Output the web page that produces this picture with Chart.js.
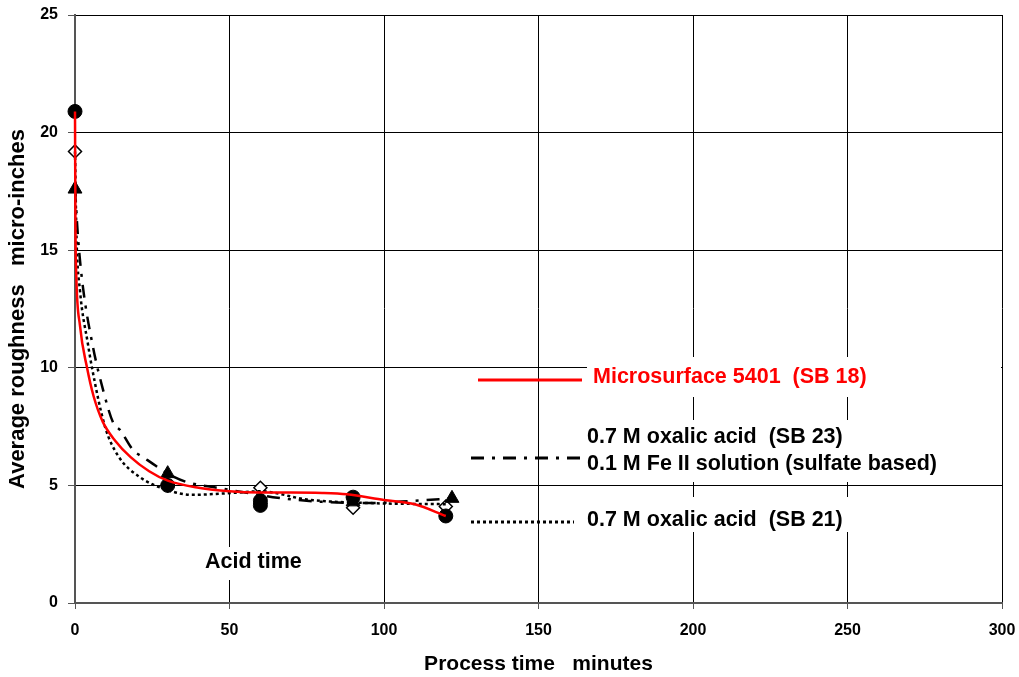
<!DOCTYPE html>
<html>
<head>
<meta charset="utf-8">
<script src="https://cdn.jsdelivr.net/npm/chart.js@4/dist/chart.umd.min.js"></script>
<style>
  html, body { margin: 0; padding: 0; background: #fff; }
  #wrap { width: 1019px; height: 677px; }
</style>
</head>
<body>
<div id="wrap"><canvas id="grafico" width="1019" height="677"></canvas></div>
<script>
// measured points
var sb18X = [0, 30, 60, 60, 90, 120];
var sb18Y = [20.9, 5.0, 4.35, 4.15, 4.5, 3.7];
var sb23X = [0, 30, 60, 90, 122];
var sb23Y = [17.6, 5.5, 4.4, 4.3, 4.45];
var sb21X = [0, 30, 60, 90, 120];
var sb21Y = [19.2, 5.0, 4.9, 4.05, 4.1];

// trend curves
var fit18X = [0, 0.15, 0.4, 1.6, 3.9, 6, 9, 13, 18, 24, 30, 40, 50, 60, 70, 80, 88, 100, 110, 120];
var fit18Y = [20.9, 16, 14, 11.8, 10, 8.8, 7.7, 6.9, 6.2, 5.6, 5.2, 4.9, 4.75, 4.7, 4.7, 4.68, 4.62, 4.38, 4.2, 3.7];
var fit23X = [0, 1, 2.6, 5.8, 9.1, 12.4, 14.6, 18.8, 22, 24.3, 30, 36, 46, 55, 64, 80, 95, 110, 122];
var fit23Y = [17.6, 15.5, 13.4, 10.9, 9.05, 7.65, 7.35, 6.5, 6.2, 6.0, 5.5, 5.15, 4.9, 4.7, 4.5, 4.3, 4.25, 4.35, 4.45];
var fit21X = [0, 0.5, 1.6, 4.2, 5.5, 9.7, 14, 21, 30, 38, 51, 60, 75, 95, 120];
var fit21Y = [19.2, 15.5, 13.3, 11, 10, 7.5, 6.25, 5.35, 4.8, 4.6, 4.68, 4.75, 4.4, 4.25, 4.2];

var xTicks = [0, 50, 100, 150, 200, 250, 300];
var yTicks = [0, 5, 10, 15, 20, 25];

var legendaTextos = [
    { t: 'Microsurface 5401  (SB 18)', x: 593, y: 377, c: '#ff0000' },
    { t: '0.7 M oxalic acid  (SB 23)', x: 587, y: 437, c: '#000' },
    { t: '0.1 M Fe II solution (sulfate based)', x: 587, y: 464, c: '#000' },
    { t: '0.7 M oxalic acid  (SB 21)', x: 587, y: 520, c: '#000' },
    { t: 'Acid time', x: 205, y: 562, c: '#000' }
];

function pares(xs, ys) {
    return xs.map(function (x, i) { return { x: x, y: ys[i] }; });
}

var fonte = '"Liberation Sans", Arial, sans-serif';

var legendaPlugin = {
    id: 'legendaPlugin',
    beforeDatasetsDraw: function (chart) {
        var ctx = chart.ctx;
        ctx.save();
        // white text boxes that hide the grid
        ctx.fillStyle = '#fff';
        ctx.fillRect(587, 357, 414, 40);
        ctx.fillRect(582, 420, 370, 62);
        ctx.fillRect(582, 497, 280, 35);
        ctx.fillRect(197, 547, 112, 33);

        ctx.font = 'bold 21.5px ' + fonte;
        ctx.textBaseline = 'middle';
        legendaTextos.forEach(function (l) {
            ctx.fillStyle = l.c;
            ctx.fillText(l.t, l.x, l.y);
        });

        ctx.lineWidth = 3;
        ctx.lineCap = 'butt';
        ctx.strokeStyle = '#ff0000';
        ctx.beginPath(); ctx.moveTo(478, 380); ctx.lineTo(582, 380); ctx.stroke();

        ctx.strokeStyle = '#000';
        ctx.setLineDash([13, 8, 3, 8]);
        ctx.beginPath(); ctx.moveTo(471, 458); ctx.lineTo(582, 458); ctx.stroke();

        ctx.setLineDash([3, 3]);
        ctx.beginPath(); ctx.moveTo(471, 522); ctx.lineTo(574, 522); ctx.stroke();
        ctx.restore();
    }
};

var ctx = document.getElementById('grafico').getContext('2d');

new Chart(ctx, {
    type: 'scatter',
    data: {
        datasets: [
            {
                type: 'line', label: 'SB 18 fit', data: pares(fit18X, fit18Y),
                borderColor: '#ff0000', borderWidth: 2.5, pointRadius: 0, clip: false,
                cubicInterpolationMode: 'monotone', fill: false
            },
            {
                type: 'line', label: 'SB 23 fit', data: pares(fit23X, fit23Y),
                borderColor: '#000', borderWidth: 2.5, borderDash: [13, 8, 3, 8], pointRadius: 0, clip: false,
                cubicInterpolationMode: 'monotone', fill: false
            },
            {
                type: 'line', label: 'SB 21 fit', data: pares(fit21X, fit21Y),
                borderColor: '#000', borderWidth: 2.5, borderDash: [3, 3], pointRadius: 0, clip: false,
                cubicInterpolationMode: 'monotone', fill: false
            },
            {
                label: 'SB 18', data: pares(sb18X, sb18Y), showLine: false, clip: false,
                pointStyle: 'circle', pointRadius: 7, pointBorderWidth: 1,
                pointBackgroundColor: '#000', pointBorderColor: '#000'
            },
            {
                label: 'SB 23', data: pares(sb23X, sb23Y), showLine: false, clip: false,
                pointStyle: 'triangle', pointRadius: 8, pointBorderWidth: 1,
                pointBackgroundColor: '#000', pointBorderColor: '#000'
            },
            {
                label: 'SB 21', data: pares(sb21X, sb21Y), showLine: false, clip: false,
                pointStyle: 'rectRot', pointRadius: 6.5, pointBorderWidth: 1.5,
                pointBackgroundColor: '#fff', pointBorderColor: '#000'
            }
        ]
    },
    options: {
        responsive: false,
        animation: false,
        devicePixelRatio: 1,
        layout: { padding: { left: 0, right: 17, top: 15, bottom: 0 } },
        plugins: {
            legend: { display: false },
            tooltip: { enabled: false }
        },
        scales: {
            x: {
                type: 'linear', min: 0, max: 300,
                afterFit: function (s) { s.height = 74; s.paddingLeft = 0; s.paddingRight = 0; },
                afterBuildTicks: function (s) { s.ticks = xTicks.map(function (v) { return { value: v }; }); },
                grid: { color: '#000', lineWidth: 1, tickLength: 6, tickColor: '#555' },
                border: { color: '#555', width: 2 },
                ticks: { color: '#000', padding: 12, maxRotation: 0, font: { family: fonte, size: 16, weight: 'bold' } },
                title: {
                    display: true, text: 'Process time   minutes', color: '#000',
                    padding: { top: 2, bottom: 0 },
                    font: { family: fonte, size: 21, weight: 'bold' }
                }
            },
            y: {
                type: 'linear', min: 0, max: 25,
                afterFit: function (s) { s.width = 75; s.paddingTop = 0; s.paddingBottom = 0; },
                afterBuildTicks: function (s) { s.ticks = yTicks.map(function (v) { return { value: v }; }); },
                grid: { color: '#000', lineWidth: 1, tickLength: 7, tickColor: '#555' },
                border: { color: '#555', width: 2 },
                ticks: { color: '#000', padding: 10, font: { family: fonte, size: 16, weight: 'bold' } },
                title: {
                    display: true, text: 'Average roughness   micro-inches', color: '#000',
                    padding: { top: 5, bottom: 0 },
                    font: { family: fonte, size: 22, weight: 'bold' }
                }
            }
        }
    },
    plugins: [legendaPlugin]
});
</script>
</body>
</html>
